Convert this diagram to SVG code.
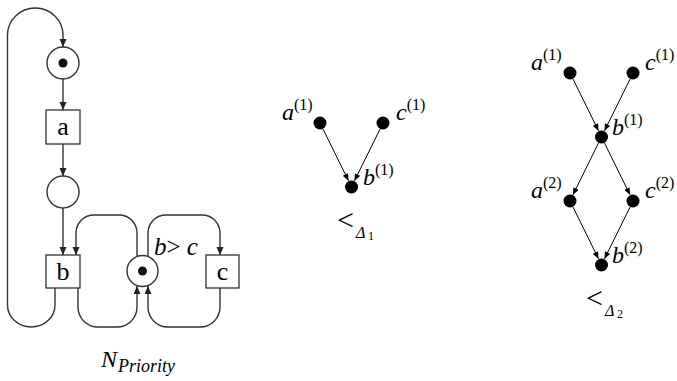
<svg xmlns="http://www.w3.org/2000/svg" width="677" height="381" viewBox="0 0 677 381">
<style>
.w{fill:none;stroke:#333;stroke-width:1.4}
.pl{fill:#fff;stroke:#333;stroke-width:1.4}
.tr{fill:#fff;stroke:#333;stroke-width:1.3}
.tok{fill:#111}
.ev{fill:#000}
.ar{fill:none;stroke:#000;stroke-width:1}
.t{font-family:"Liberation Serif","Times New Roman",serif;fill:#000}
.i{font-style:italic}
.lb{font-size:24px}
.sp{font-size:16px;font-style:normal}
</style>
<defs>
<marker id="ah" markerUnits="userSpaceOnUse" markerWidth="8" markerHeight="8" refX="8" refY="3.5" orient="auto"><path d="M0,0 L8,3.5 L0,7 z" fill="#222"/></marker>
<marker id="as" markerUnits="userSpaceOnUse" markerWidth="7" markerHeight="6" refX="7" refY="3" orient="auto"><path d="M0,0 L7,3 L0,6 z" fill="#000"/></marker>
</defs>
<g id="connectors">
<path class="w" d="M55 288 V305 A23.75 22 0 0 1 7.5 305 V35 A27.75 27 0 0 1 63 35 V47" marker-end="url(#ah)"/>
<path class="w" d="M63 79 V110" marker-end="url(#ah)"/>
<path class="w" d="M63 144 V176" marker-end="url(#ah)"/>
<path class="w" d="M63 208 V255" marker-end="url(#ah)"/>
<path class="w" d="M137 257 V233 A18 18 0 0 0 119 215 H94 A18 18 0 0 0 76 233 V255" marker-end="url(#ah)"/>
<path class="w" d="M148 257 V233 A18 18 0 0 1 166 215 H202 A18 18 0 0 1 220 233 V255" marker-end="url(#ah)"/>
<path class="w" d="M78 288 V307 A20 20 0 0 0 98 327 H117 A20 20 0 0 0 137 307 V286" marker-end="url(#ah)"/>
<path class="w" d="M220 288 V307 A20 20 0 0 1 200 327 H168 A20 20 0 0 1 148 307 V286" marker-end="url(#ah)"/>
<line class="ar" x1="322.9" y1="128.8" x2="348.5" y2="180.8" marker-end="url(#as)"/>
<line class="ar" x1="380.2" y1="128.8" x2="354.5" y2="180.8" marker-end="url(#as)"/>
<line class="ar" x1="572.9" y1="78.8" x2="598.5" y2="130.8" marker-end="url(#as)"/>
<line class="ar" x1="630.2" y1="78.8" x2="604.5" y2="130.8" marker-end="url(#as)"/>
<line class="ar" x1="598.6" y1="142.8" x2="573.0" y2="194.8" marker-end="url(#as)"/>
<line class="ar" x1="604.4" y1="142.8" x2="630.0" y2="194.8" marker-end="url(#as)"/>
<line class="ar" x1="572.9" y1="206.8" x2="598.5" y2="258.8" marker-end="url(#as)"/>
<line class="ar" x1="630.2" y1="206.8" x2="604.5" y2="258.8" marker-end="url(#as)"/>
</g>
<g id="p1"><circle class="pl" cx="63" cy="63" r="16"/><circle class="tok" cx="63" cy="63" r="4.5"/></g>
<g id="ta"><rect class="tr" x="46" y="110" width="34" height="34"/><text class="t" x="63" y="135" font-size="26" text-anchor="middle">a</text></g>
<g id="p2"><circle class="pl" cx="63" cy="192" r="16"/></g>
<g id="tb"><rect class="tr" x="46" y="255" width="34" height="33"/><text class="t" x="63" y="280" font-size="26" text-anchor="middle">b</text></g>
<g id="pprio"><circle class="pl" cx="142.5" cy="271" r="15.5"/><circle class="tok" cx="142.5" cy="271" r="4.5"/><text class="t" x="154" y="255" font-size="25"><tspan class="i">b</tspan>&gt; <tspan class="i">c</tspan></text></g>
<g id="tc"><rect class="tr" x="206" y="255" width="33" height="33"/><text class="t" x="222.5" y="280" font-size="26" text-anchor="middle">c</text></g>
<g id="title1"><text class="t i" x="101" y="367" font-size="24">N</text><text class="t i" x="118" y="372" font-size="18">Priority</text></g>
<g id="d1a1"><circle class="ev" cx="320" cy="123" r="6.5"/><text class="t lb" x="282" y="120"><tspan class="i">a</tspan><tspan class="sp" dy="-10">(1)</tspan></text></g>
<g id="d1c1"><circle class="ev" cx="383" cy="123" r="6.5"/><text class="t lb" x="396" y="120"><tspan class="i">c</tspan><tspan class="sp" dy="-10">(1)</tspan></text></g>
<g id="d1b1"><circle class="ev" cx="351.5" cy="187" r="6.5"/><text class="t lb" x="363" y="185"><tspan class="i">b</tspan><tspan class="sp" dy="-10">(1)</tspan></text></g>
<g id="lab1"><text class="t" x="337" y="230" font-size="30">&lt;</text><text class="t i" x="356" y="238" font-size="16">Δ</text><text class="t" x="368" y="240" font-size="12">1</text></g>
<g id="d2a1"><circle class="ev" cx="570" cy="73" r="6.5"/><text class="t lb" x="531" y="70"><tspan class="i">a</tspan><tspan class="sp" dy="-10">(1)</tspan></text></g>
<g id="d2c1"><circle class="ev" cx="633" cy="73" r="6.5"/><text class="t lb" x="645" y="70"><tspan class="i">c</tspan><tspan class="sp" dy="-10">(1)</tspan></text></g>
<g id="d2b1"><circle class="ev" cx="601.5" cy="137" r="6.5"/><text class="t lb" x="612" y="135"><tspan class="i">b</tspan><tspan class="sp" dy="-10">(1)</tspan></text></g>
<g id="d2a2"><circle class="ev" cx="570" cy="201" r="6.5"/><text class="t lb" x="531" y="198"><tspan class="i">a</tspan><tspan class="sp" dy="-10">(2)</tspan></text></g>
<g id="d2c2"><circle class="ev" cx="633" cy="201" r="6.5"/><text class="t lb" x="645" y="198"><tspan class="i">c</tspan><tspan class="sp" dy="-10">(2)</tspan></text></g>
<g id="d2b2"><circle class="ev" cx="601.5" cy="265" r="6.5"/><text class="t lb" x="612" y="263"><tspan class="i">b</tspan><tspan class="sp" dy="-10">(2)</tspan></text></g>
<g id="lab2"><text class="t" x="586" y="308" font-size="30">&lt;</text><text class="t i" x="605" y="316" font-size="16">Δ</text><text class="t" x="617" y="318" font-size="12">2</text></g>
</svg>
